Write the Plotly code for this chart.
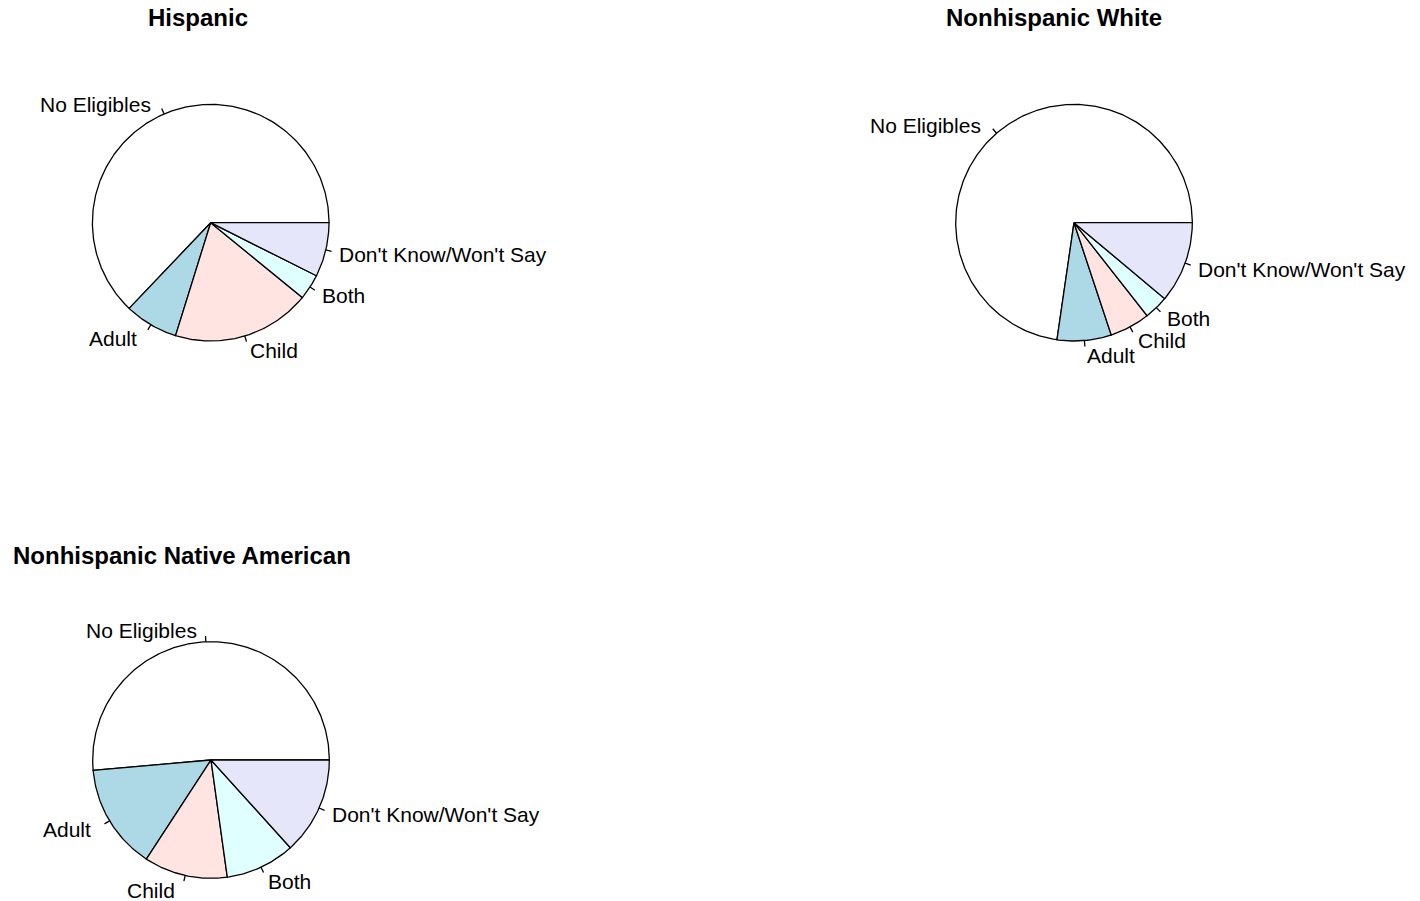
import numpy as np
import plotly.graph_objects as go

# ---- data (percent of households) ----
categories = ["No Eligibles", "Adult", "Child", "Both", "Don't Know/Won't Say"]
hispanic = [62.9, 7.3, 18.9, 3.5, 7.4]
nonhispanic_white = [72.7, 7.4, 5.5, 3.3, 11.1]
nonhispanic_native_american = [51.4, 14.4, 11.4, 9.5, 13.3]
titles = ["Hispanic", "Nonhispanic White", "Nonhispanic Native American"]

slice_colors = ["white", "lightblue", "mistyrose", "lightcyan", "lavender"]

# ---- layout (pixels) ----
W, H = 1420, 901
R_PX = 118.3                      # pie radius in pixels
HALF = 1.12                       # half-size of each subplot box in radius units
centers = [(210.7, 222.7), (1074.0, 222.7), (211.0, 760.0)]
title_pos = [(197.5, 17.5), (1054, 17.5), (182, 555)]
FONT = "Liberation Sans, Arial, Helvetica, sans-serif"

series = [hispanic, nonhispanic_white, nonhispanic_native_american]

fig = go.Figure()
annotations = []

for i, (vals, (cx, cy)) in enumerate(zip(series, centers)):
    ax = "" if i == 0 else str(i + 1)
    xref, yref = "x" + ax, "y" + ax
    half_px = HALF * R_PX
    xdom = [(cx - half_px) / W, (cx + half_px) / W]
    ydom = [1 - (cy + half_px) / H, 1 - (cy - half_px) / H]
    axis_common = dict(range=[-HALF, HALF], visible=False, fixedrange=True)
    fig.layout["xaxis" + ax] = dict(domain=xdom, anchor=yref, **axis_common)
    fig.layout["yaxis" + ax] = dict(domain=ydom, anchor=xref, **axis_common)

    v = np.asarray(vals, dtype=float)
    frac = np.concatenate([[0.0], np.cumsum(v) / v.sum()])
    tick_x, tick_y = [], []
    for k in range(len(v)):
        a0, a1 = 2 * np.pi * frac[k], 2 * np.pi * frac[k + 1]
        n = max(3, int(np.ceil(400 * (frac[k + 1] - frac[k]))))
        t = np.linspace(a0, a1, n)
        xs = np.concatenate([[0.0], np.cos(t), [0.0]])
        ys = np.concatenate([[0.0], np.sin(t), [0.0]])
        fig.add_trace(go.Scatter(
            x=xs, y=ys, mode="lines", fill="toself",
            fillcolor=slice_colors[k],
            line=dict(color="black", width=1.3),
            xaxis=xref, yaxis=yref, hoverinfo="skip", showlegend=False))
        am = 0.5 * (a0 + a1)
        px, py = np.cos(am), np.sin(am)
        tick_x += [px, 1.05 * px, None]
        tick_y += [py, 1.05 * py, None]
        annotations.append(dict(
            x=1.1 * px, y=1.1 * py, xref=xref, yref=yref,
            text=categories[k], showarrow=False,
            xanchor="right" if px < 0 else "left", yanchor="middle",
            xshift=-6 if px < 0 else 0,
            yshift=-1 + 2.5 * min(py, 0.0),
            font=dict(family=FONT, size=21, color="black")))
    fig.add_trace(go.Scatter(
        x=tick_x, y=tick_y, mode="lines",
        line=dict(color="black", width=1.3),
        xaxis=xref, yaxis=yref, hoverinfo="skip", showlegend=False))

for (tx, ty), t in zip(title_pos, titles):
    annotations.append(dict(
        x=tx / W, y=1 - ty / H, xref="paper", yref="paper",
        text="<b>" + t + "</b>", showarrow=False,
        xanchor="center", yanchor="middle",
        font=dict(family=FONT, size=24, color="black")))

fig.update_layout(
    width=W, height=H,
    margin=dict(l=0, r=0, t=0, b=0),
    paper_bgcolor="white", plot_bgcolor="white",
    annotations=annotations,
    showlegend=False,
)

fig.write_html(
    "out.html",
    config={"displayModeBar": False, "staticPlot": True},
    post_script="document.body.style.margin='0';document.body.style.overflow='hidden';",
)
